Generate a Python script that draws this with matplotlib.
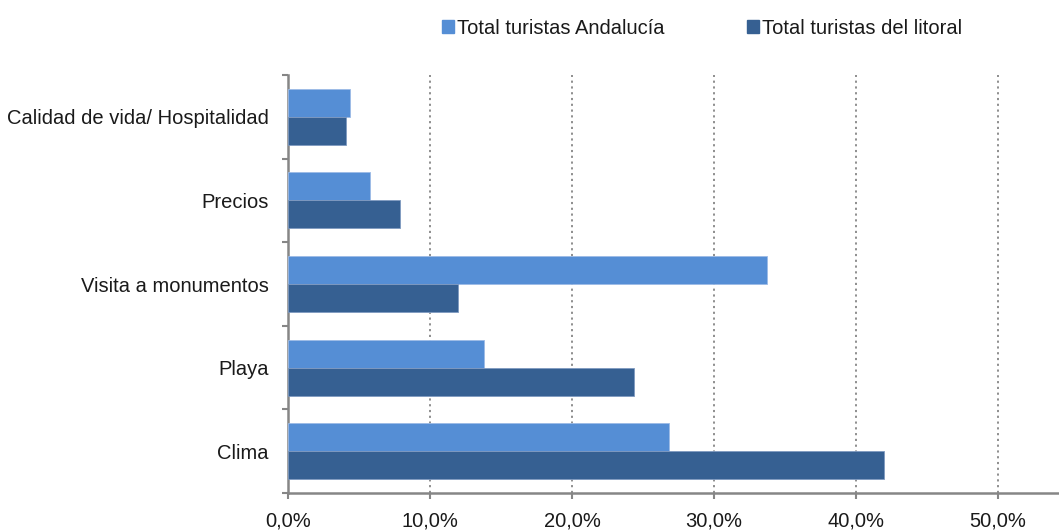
import matplotlib
matplotlib.use("Agg")
import matplotlib.pyplot as plt
from matplotlib.ticker import FuncFormatter, FixedLocator
from matplotlib.patches import Patch
import numpy as np

plt.rcParams['font.family'] = ['Liberation Sans', 'DejaVu Sans']

categories = ["Clima", "Playa", "Visita a monumentos", "Precios", "Calidad de vida/ Hospitalidad"]
andalucia = [26.8, 13.8, 33.7, 5.8, 4.4]
litoral = [42.0, 24.4, 12.0, 7.9, 4.1]
series_names = ["Total turistas Andalucía", "Total turistas del litoral"]
xticks = [0, 10, 20, 30, 40, 50]

c_and = "#558ED5"
c_lit = "#366092"
gray = "#868686"
txt = "#1a1a1a"

fig = plt.figure(figsize=(10.59, 5.31), dpi=100)
ax = fig.add_axes([288/1059, 1 - 493/531, (1059-288)/1059, (493-75)/531])

y = np.arange(len(categories))
h = 0.335
ax.barh(y + h/2, andalucia, height=h, color=c_and, edgecolor="#9DBBE6", linewidth=0.6, zorder=3)
ax.barh(y - h/2, litoral, height=h, color=c_lit, edgecolor="#7F9AC0", linewidth=0.6, zorder=3)

ax.set_xlim(0, 54.3)
ax.set_ylim(-0.5, len(categories) - 0.5)

ax.set_yticks(y)
ax.set_yticklabels(categories, fontsize=14.5, color=txt)
ax.yaxis.set_minor_locator(FixedLocator(np.arange(-0.5, len(categories), 1.0)))
ax.tick_params(axis='y', which='major', length=0, pad=14)
ax.tick_params(axis='y', which='minor', length=4.5, width=1.5, color=gray, direction='out')

ax.set_xticks(xticks)
ax.xaxis.set_major_formatter(FuncFormatter(lambda v, p: f"{v:.1f}%".replace(".", ",")))
ax.tick_params(axis='x', which='major', length=4.5, width=1.5, color=gray, direction='out',
               labelsize=14.5, pad=9, labelcolor=txt)

ax.grid(axis='x', linestyle=(0, (1.2, 2)), color=gray, linewidth=1.3, zorder=0)
for s in ["top", "right"]:
    ax.spines[s].set_visible(False)
for s in ["left", "bottom"]:
    ax.spines[s].set_color(gray)
    ax.spines[s].set_linewidth(1.8)

handles = [Patch(color=c_and), Patch(color=c_lit)]
fig.legend(handles, series_names, loc='center', bbox_to_anchor=(702/1059, 1 - 28/531), ncol=2,
           frameon=False, fontsize=14.5, handlelength=0.6, handleheight=0.6, handletextpad=0.15,
           columnspacing=4.1, labelcolor=txt)

fig.savefig("out.png", dpi=100)
